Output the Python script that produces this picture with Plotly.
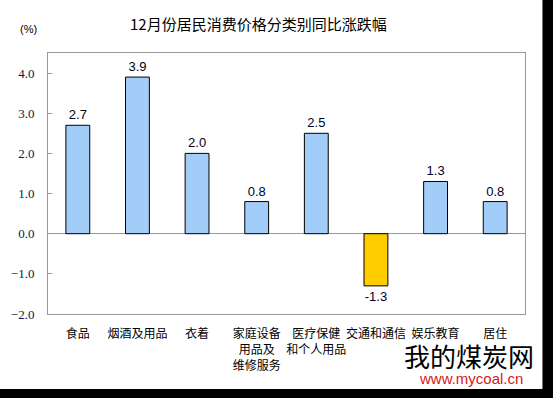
import plotly.graph_objects as go

categories = ["食品", "烟酒及用品", "衣着", "家庭设备<br>用品及<br>维修服务",
              "医疗保健<br>和个人用品", "交通和通信", "娱乐教育", "居住"]
values = [2.7, 3.9, 2.0, 0.8, 2.5, -1.3, 1.3, 0.8]
y_ticks = [-2.0, -1.0, 0.0, 1.0, 2.0, 3.0, 4.0]
title_text = "12月份居民消费价格分类别同比涨跌幅"
unit_text = "(%)"

W, H = 553, 398
L, R, T, B = 47.5, 27.5, 53, 84
pw, ph = W - L - R, H - T - B


def px(x):
    return (x - L) / pw


def py(y):
    return (H - B - y) / ph


colors = ["#FFCC00" if v < 0 else "#A3CDF9" for v in values]
labels = [f"{v:.1f}" for v in values]

fig = go.Figure(go.Bar(
    x=categories, y=values,
    marker=dict(color=colors, line=dict(color="black", width=1)),
    text=labels, textposition="outside", cliponaxis=False,
    textfont=dict(family="Liberation Sans, Arial", size=13, color="#000022"),
    width=0.4,
))

fig.update_layout(
    width=W, height=H,
    margin=dict(l=L, r=R, t=T, b=B, pad=0),
    paper_bgcolor="white", plot_bgcolor="white",
    showlegend=False,
    font=dict(family="Noto Sans CJK SC", color="black"),
)

fig.update_xaxes(
    showline=True, mirror=True, linecolor="#999999", linewidth=1,
    ticks="", showgrid=False, tickangle=0, automargin=False,
    tickfont=dict(family="Noto Sans CJK SC", size=12, color="black"),
    ticklabelstandoff=9,
)
fig.update_yaxes(
    range=[-2, 4.5], tickvals=y_ticks, tickformat=".1f", automargin=False,
    showline=True, mirror=True, linecolor="#999999", linewidth=1,
    ticks="inside", ticklen=4, tickcolor="#999999",
    showgrid=False, zeroline=True, zerolinecolor="#999999", zerolinewidth=1,
    tickfont=dict(family="Liberation Serif, Times New Roman", size=13, color="#0a1a4a"),
    ticklabelstandoff=10,
)

annotations = [
    dict(text=title_text, x=px(258), y=py(24), xref="paper", yref="paper",
         xanchor="center", yanchor="middle",
         showarrow=False, font=dict(family="Noto Sans CJK SC", size=15, color="black")),
    dict(text=unit_text, x=px(28), y=py(29), xref="paper", yref="paper",
         xanchor="center", yanchor="middle",
         showarrow=False, font=dict(family="Liberation Sans, Arial", size=11, color="black")),
    dict(text="我的煤炭网", x=px(469), y=py(355), xref="paper", yref="paper",
         xanchor="center", yanchor="middle", borderpad=0,
         showarrow=False,
         font=dict(family="Noto Sans CJK SC", size=26, color="black")),
    dict(text="www.mycoal.cn", x=px(471), y=py(378), xref="paper", yref="paper",
         xanchor="center", yanchor="middle", borderpad=0,
         showarrow=False,
         font=dict(family="Liberation Sans, Arial", size=15, color="#D42020")),
]
fig.update_layout(annotations=annotations)

shapes = [
    dict(type="rect", xref="paper", yref="paper", x0=px(543), x1=px(W + 5),
         y0=py(H + 5), y1=py(-5), fillcolor="black", line=dict(width=0), layer="above"),
    dict(type="rect", xref="paper", yref="paper", x0=px(-5), x1=px(W + 5),
         y0=py(H + 5), y1=py(389), fillcolor="black", line=dict(width=0), layer="above"),
]
fig.update_layout(shapes=shapes)

fig.write_html("out.html", config={"displayModeBar": False},
               post_script="document.body.style.margin='0';document.body.style.overflow='hidden';")
